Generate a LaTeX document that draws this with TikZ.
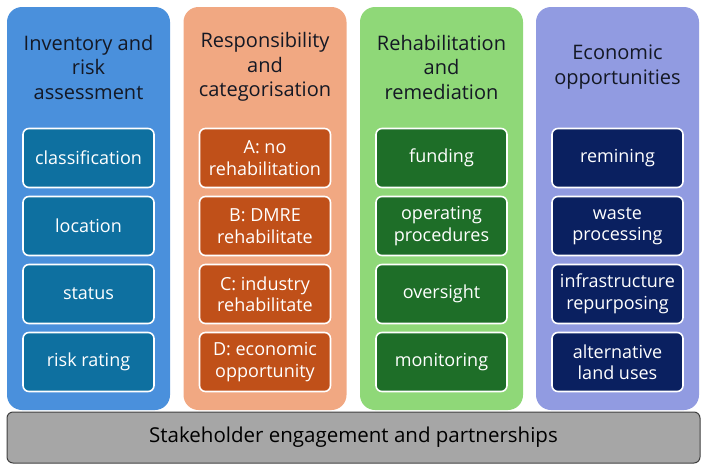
\documentclass[tikz,border=0pt]{standalone}
\usepackage{fontspec}
\setmainfont{Open Sans}
\usepackage{xcolor}
\usetikzlibrary{positioning}

\definecolor{invbg}{RGB}{74,144,220}
\definecolor{invbox}{RGB}{14,112,160}
\definecolor{resbg}{RGB}{241,168,130}
\definecolor{resbox}{RGB}{192,80,25}
\definecolor{rehbg}{RGB}{143,216,120}
\definecolor{rehbox}{RGB}{30,110,40}
\definecolor{ecobg}{RGB}{145,155,225}
\definecolor{ecobox}{RGB}{10,32,96}
\definecolor{barfill}{RGB}{166,166,166}
\definecolor{headtext}{RGB}{20,24,36}

\begin{document}
\begin{tikzpicture}[x=1pt, y=-1pt,
  col/.style={rounded corners=15pt, minimum width=163pt, minimum height=403pt, inner sep=0pt},
  head/.style={align=center, text=headtext, font=\fontsize{20}{24.5}\selectfont},
  item/.style={draw=white, line width=1.6pt, rounded corners=6pt, align=center,
               text=white, font=\fontsize{18}{21.5}\selectfont,
               minimum width=131pt, minimum height=59pt, inner sep=0pt, outer sep=0pt},
  bar/.style={draw=black!75, fill=barfill, line width=1pt, rounded corners=6pt,
              minimum width=693pt, minimum height=51pt, font=\fontsize{20.5}{24}\selectfont},
]
  \useasboundingbox (0,0) rectangle (709,471);

  % column backgrounds
  \node[col, fill=invbg] (inv)   at (88.5,208.5)  {};
  \node[col, fill=resbg] (resp)  at (265,208.5)   {};
  \node[col, fill=rehbg] (rehab) at (441.5,208.5) {};
  \node[col, fill=ecobg] (econ)  at (617.5,208.5) {};

  % column headings
  \node[head] (invh)   at (88.5,67)  {Inventory and\\risk\\assessment};
  \node[head] (resph)  at (265,67)   {Responsibility\\and\\categorisation};
  \node[head] (rehabh) at (441.5,67) {Rehabilitation\\and\\remediation};
  \node[head] (econh)  at (617.5,67) {Economic\\opportunities};

  % inventory and risk assessment
  \node[item, fill=invbox] (inv1) at (88.5,158) {classification};
  \node[item, fill=invbox, below=9pt of inv1] (inv2) {location};
  \node[item, fill=invbox, below=9pt of inv2] (inv3) {status};
  \node[item, fill=invbox, below=9pt of inv3] (inv4) {risk rating};

  % responsibility and categorisation
  \node[item, fill=resbox] (resp1) at (265,158) {A: no\\rehabilitation};
  \node[item, fill=resbox, below=9pt of resp1] (resp2) {B: DMRE\\rehabilitate};
  \node[item, fill=resbox, below=9pt of resp2] (resp3) {C: industry\\rehabilitate};
  \node[item, fill=resbox, below=9pt of resp3] (resp4) {D: economic\\opportunity};

  % rehabilitation and remediation
  \node[item, fill=rehbox] (rehab1) at (441.5,158) {funding};
  \node[item, fill=rehbox, below=9pt of rehab1] (rehab2) {operating\\procedures};
  \node[item, fill=rehbox, below=9pt of rehab2] (rehab3) {oversight};
  \node[item, fill=rehbox, below=9pt of rehab3] (rehab4) {monitoring};

  % economic opportunities
  \node[item, fill=ecobox] (econ1) at (617.5,158) {remining};
  \node[item, fill=ecobox, below=9pt of econ1] (econ2) {waste\\processing};
  \node[item, fill=ecobox, below=9pt of econ2] (econ3) {infrastructure\\repurposing};
  \node[item, fill=ecobox, below=9pt of econ3] (econ4) {alternative\\land uses};

  % base bar
  \node[bar] (stake) at (353.5,437.5) {Stakeholder engagement and partnerships};
\end{tikzpicture}
\end{document}
